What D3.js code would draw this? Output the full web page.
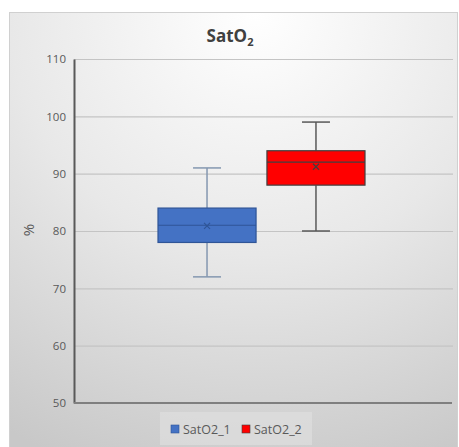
<!DOCTYPE html>
<html>
<head>
<meta charset="utf-8">
<script src="https://cdn.jsdelivr.net/npm/d3@7/dist/d3.min.js"></script>
<style>
 body { margin: 0; background: #fff; }
 svg { display: block; font-family: "Open Sans", sans-serif; }
</style>
</head>
<body>
<svg id="chart" width="459" height="447"></svg>
<script>
 // series data
 var series = ["SatO2_1", "SatO2_2"];
 var whiskerLow = [72, 80];
 var q1 = [78, 88];
 var median = [81, 92];
 var q3 = [84, 94];
 var whiskerHigh = [91, 99];
 var mean = [80.9, 91.2];
 var fills = ["#4472c4", "#ff0000"];
 var strokes = ["#2f5597", "#404040"];
 var whiskerColors = ["#8497b0", "#595959"];
 var yTicks = [50, 60, 70, 80, 90, 100, 110];

 var svg = d3.select("#chart");
 var margin = { left: 74, right: 6, top: 59, bottom: 44 };
 var W = 459, H = 447;

 // background panel with gradient
 var defs = svg.append("defs");
 var grad = defs.append("radialGradient").attr("id", "bg")
     .attr("cx", "0.55").attr("cy", "0").attr("r", "1.1");
 grad.append("stop").attr("offset", "0").attr("stop-color", "#ffffff");
 grad.append("stop").attr("offset", "0.5").attr("stop-color", "#e8e8e8");
 grad.append("stop").attr("offset", "1").attr("stop-color", "#c8c8c8");

 svg.append("rect").attr("x", 9.5).attr("y", 12.5).attr("width", 448).attr("height", 440)
    .attr("fill", "url(#bg)").attr("stroke", "#d0d0d0");

 var y = d3.scaleLinear().domain([50, 110]).range([H - margin.bottom, margin.top]);
 var x = d3.scaleBand().domain(series).range([158, 365]).paddingInner(0.1);

 // gridlines
 svg.append("g").selectAll("line").data(yTicks.slice(1)).join("line")
    .attr("x1", margin.left).attr("x2", W - margin.right)
    .attr("y1", function(d){ return y(d) + 0.5; }).attr("y2", function(d){ return y(d) + 0.5; })
    .attr("stroke", "#c4c4c4").attr("stroke-width", 1.2);

 // y axis
 var yAxis = svg.append("g").attr("transform", "translate(" + margin.left + ",0)")
    .call(d3.axisLeft(y).tickValues(yTicks).tickSize(0).tickPadding(8));
 yAxis.select(".domain").attr("stroke", "#595959").attr("stroke-width", 2);
 yAxis.selectAll("text").attr("fill", "#595959").style("font-size", "11.5px")
    .style("font-family", "'Open Sans', sans-serif");

 // x axis baseline
 svg.append("line").attr("x1", margin.left).attr("x2", W - margin.right - 1)
    .attr("y1", y(50)).attr("y2", y(50))
    .attr("stroke", "#7f7f7f").attr("stroke-width", 2);

 // boxes
 var g = svg.append("g").selectAll("g").data(series).join("g");
 var bw = x.bandwidth();
 g.each(function(s, i){
     var el = d3.select(this);
     var cx = x(s) + bw / 2;
     var wc = whiskerColors[i];
     el.append("line").attr("x1", cx).attr("x2", cx)
       .attr("y1", y(whiskerHigh[i])).attr("y2", y(q3[i])).attr("stroke", wc).attr("stroke-width", 1.5);
     el.append("line").attr("x1", cx).attr("x2", cx)
       .attr("y1", y(q1[i])).attr("y2", y(whiskerLow[i])).attr("stroke", wc).attr("stroke-width", 1.5);
     [whiskerHigh[i], whiskerLow[i]].forEach(function(v){
         el.append("line").attr("x1", cx - 14).attr("x2", cx + 14)
           .attr("y1", y(v)).attr("y2", y(v)).attr("stroke", wc).attr("stroke-width", 1.5);
     });
     el.append("rect").attr("x", x(s)).attr("y", y(q3[i]))
       .attr("width", bw).attr("height", y(q1[i]) - y(q3[i]))
       .attr("fill", fills[i]).attr("stroke", strokes[i]).attr("stroke-width", 1.2);
     el.append("line").attr("x1", x(s)).attr("x2", x(s) + bw)
       .attr("y1", y(median[i])).attr("y2", y(median[i]))
       .attr("stroke", strokes[i]).attr("stroke-width", 1.2);
     var my = y(mean[i]);
     el.append("path").attr("d", "M" + (cx - 3) + "," + (my - 3) + "L" + (cx + 3) + "," + (my + 3) +
         "M" + (cx - 3) + "," + (my + 3) + "L" + (cx + 3) + "," + (my - 3))
       .attr("stroke", strokes[i]).attr("stroke-width", 1.2).attr("fill", "none");
 });

 // title
 var title = svg.append("text").attr("x", 230).attr("y", 42).attr("text-anchor", "middle")
    .attr("fill", "#404040").style("font-size", "17px").style("font-weight", "bold")
    .style("font-family", "'Open Sans', sans-serif");
 title.append("tspan").text("SatO");
 title.append("tspan").attr("dy", 4).style("font-size", "11px").text("2");

 // y label
 svg.append("text").attr("transform", "translate(34,230) rotate(-90)")
    .attr("text-anchor", "middle").attr("fill", "#595959").style("font-size", "15px")
    .style("font-family", "'Open Sans', sans-serif").text("%");

 // legend
 var lg = svg.append("g");
 lg.append("rect").attr("x", 160).attr("y", 412).attr("width", 152).attr("height", 33)
   .attr("fill", "#dedede").attr("opacity", 0.7);
 var legX = [171, 242];
 series.forEach(function(s, i){
     lg.append("rect").attr("x", legX[i]).attr("y", 425).attr("width", 8).attr("height", 8)
       .attr("fill", fills[i]).attr("stroke", strokes[i]).attr("stroke-width", 0.6);
     lg.append("text").attr("x", legX[i] + 12).attr("y", 433.5).attr("fill", "#595959")
       .style("font-size", "12.5px").style("font-family", "'Open Sans', sans-serif").text(s);
 });
</script>
</body>
</html>
